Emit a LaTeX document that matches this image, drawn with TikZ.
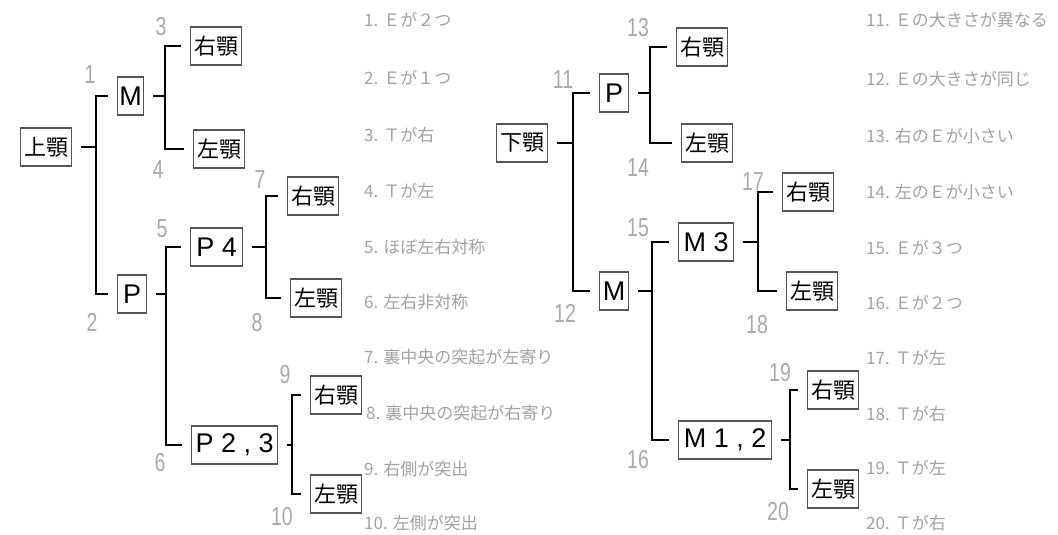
\documentclass[tikz,border=0pt]{standalone}
\usepackage{fontspec}
\setmainfont{Noto Sans CJK JP}
\newfontfamily\numfont[FakeStretch=0.75]{Liberation Sans}
\newfontfamily\latf{Liberation Sans}
\definecolor{boxc}{HTML}{555555}
\definecolor{numc}{HTML}{AAAAAA}
\definecolor{descc}{HTML}{A3A3A3}
\begin{document}
\begin{tikzpicture}[x=1pt,y=-1pt,
  box/.style={draw=boxc, line width=1.1pt, fill=white, text=black,
    font=\fontsize{22}{26}\selectfont, inner xsep=3.5pt, inner ysep=0pt,
    minimum height=38pt, anchor=west},
  latbox/.style={box, font=\latf\fontsize{27}{30}\selectfont, inner xsep=4pt},
  conn/.style={line width=1.8pt, shorten <=9pt, shorten >=9pt},
  num/.style={text=numc, font=\numfont\fontsize{26}{30}\selectfont, inner sep=0pt},
  desc/.style={text=descc, font=\fontsize{17}{20}\selectfont, anchor=west, inner sep=0pt}]
\useasboundingbox (0,0) rectangle (1058,535);
\fill[white] (0,0) rectangle (1058,535);

% ---------- left tree ----------
\node[box] (up)  at (20,147)  {上顎};
\node[latbox, inner xsep=0pt, minimum width=26pt] (M1)  at (117,96)  {M};
\node[latbox, inner xsep=0pt, minimum width=29pt] (P2)  at (117,294) {P};
\node[box] (r3)  at (190,46)  {右顎};
\node[box] (l4)  at (193,149) {左顎};
\node[latbox, minimum width=52pt] (P4)  at (190,247) {P 4};
\node[latbox, minimum width=86pt] (P23) at (191,445) {P 2 , 3};
\node[box] (r7)  at (287,196) {右顎};
\node[box] (l8)  at (290,298) {左顎};
\node[box] (r9)  at (310,395) {右顎};
\node[box] (l10) at (310,494) {左顎};

\coordinate (jUp) at (96,0);
\coordinate (jM1) at (165,0);
\coordinate (jP2) at (166,0);
\coordinate (jP4) at (266,0);
\coordinate (jP23) at (292,0);

\draw[conn] (up.east) -- (up.east -| jUp) |- (M1.west);
\draw[conn] (up.east) -- (up.east -| jUp) |- (P2.west);
\draw[conn] (M1.east) -- (M1.east -| jM1) |- (r3.west);
\draw[conn] (M1.east) -- (M1.east -| jM1) |- (l4.west);
\draw[conn] (P2.east) -- (P2.east -| jP2) |- (P4.west);
\draw[conn] (P2.east) -- (P2.east -| jP2) |- (P23.west);
\draw[conn] (P4.east) -- (P4.east -| jP4) |- (r7.west);
\draw[conn] (P4.east) -- (P4.east -| jP4) |- (l8.west);
\draw[conn] (P23.east) -- (P23.east -| jP23) |- (r9.west);
\draw[conn] (P23.east) -- (P23.east -| jP23) |- (l10.west);

\node[num] (n1)  at (90,75)   {1};
\node[num] (n2)  at (92,322)  {2};
\node[num] (n3)  at (161,27)  {3};
\node[num] (n4)  at (158,170) {4};
\node[num] (n5)  at (162,229) {5};
\node[num] (n6)  at (160,463) {6};
\node[num] (n7)  at (260,180) {7};
\node[num] (n8)  at (257,323) {8};
\node[num] (n9)  at (285,375) {9};
\node[num] (n10) at (282,517) {10};

% ---------- right tree ----------
\node[box] (low)  at (496,143) {下顎};
\node[latbox, inner xsep=0pt, minimum width=29pt] (P11)  at (599,93)  {P};
\node[latbox, inner xsep=0pt, minimum width=29pt] (M12)  at (599,291) {M};
\node[box] (r13)  at (676,47)  {右顎};
\node[box] (l14)  at (681,143) {左顎};
\node[latbox, minimum width=55pt] (M3)   at (678,242) {M 3};
\node[latbox, minimum width=93pt] (M12b) at (678,440) {M 1 , 2};
\node[box] (r17)  at (782,192) {右顎};
\node[box] (l18)  at (786,291) {左顎};
\node[box] (r19)  at (807,390) {右顎};
\node[box] (l20)  at (807,489) {左顎};

\coordinate (jLow) at (573,0);
\coordinate (jP11) at (650,0);
\coordinate (jM12) at (652,0);
\coordinate (jM3) at (758,0);
\coordinate (jM12b) at (790,0);

\draw[conn] (low.east) -- (low.east -| jLow) |- (P11.west);
\draw[conn] (low.east) -- (low.east -| jLow) |- (M12.west);
\draw[conn] (P11.east) -- (P11.east -| jP11) |- (r13.west);
\draw[conn] (P11.east) -- (P11.east -| jP11) |- (l14.west);
\draw[conn] (M12.east) -- (M12.east -| jM12) |- (M3.west);
\draw[conn] (M12.east) -- (M12.east -| jM12) |- (M12b.west);
\draw[conn] (M3.east) -- (M3.east -| jM3) |- (r17.west);
\draw[conn] (M3.east) -- (M3.east -| jM3) |- (l18.west);
\draw[conn] (M12b.east) -- (M12b.east -| jM12b) |- (r19.west);
\draw[conn] (M12b.east) -- (M12b.east -| jM12b) |- (l20.west);

\node[num] (n11) at (563,80)  {11};
\node[num] (n12) at (565,313) {12};
\node[num] (n13) at (638,28)  {13};
\node[num] (n14) at (638,168) {14};
\node[num] (n15) at (638,228) {15};
\node[num] (n16) at (638,460) {16};
\node[num] (n17) at (753,182) {17};
\node[num] (n18) at (757,325) {18};
\node[num] (n19) at (780,373) {19};
\node[num] (n20) at (778,512) {20};

% ---------- descriptions ----------
\node[desc] (d1)  at (364,20)  {1. Ｅが２つ};
\node[desc] (d2)  at (364,78)  {2. Ｅが１つ};
\node[desc] (d3)  at (364,135) {3. Ｔが右};
\node[desc] (d4)  at (364,191) {4. Ｔが左};
\node[desc] (d5)  at (364,247) {5. ほぼ左右対称};
\node[desc] (d6)  at (364,302) {6. 左右非対称};
\node[desc] (d7)  at (364,357) {7. 裏中央の突起が左寄り};
\node[desc] (d8)  at (366,413) {8. 裏中央の突起が右寄り};
\node[desc] (d9)  at (364,469) {9. 右側が突出};
\node[desc] (d10) at (364,523) {10. 左側が突出};

\node[desc] (d11) at (866,20)  {11. Ｅの大きさが異なる};
\node[desc] (d12) at (866,79)  {12. Ｅの大きさが同じ};
\node[desc] (d13) at (866,136) {13. 右のＥが小さい};
\node[desc] (d14) at (866,192) {14. 左のＥが小さい};
\node[desc] (d15) at (866,248) {15. Ｅが３つ};
\node[desc] (d16) at (866,303) {16. Ｅが２つ};
\node[desc] (d17) at (866,358) {17. Ｔが左};
\node[desc] (d18) at (866,414) {18. Ｔが右};
\node[desc] (d19) at (866,468) {19. Ｔが左};
\node[desc] (d20) at (866,523) {20. Ｔが右};
\end{tikzpicture}
\end{document}
